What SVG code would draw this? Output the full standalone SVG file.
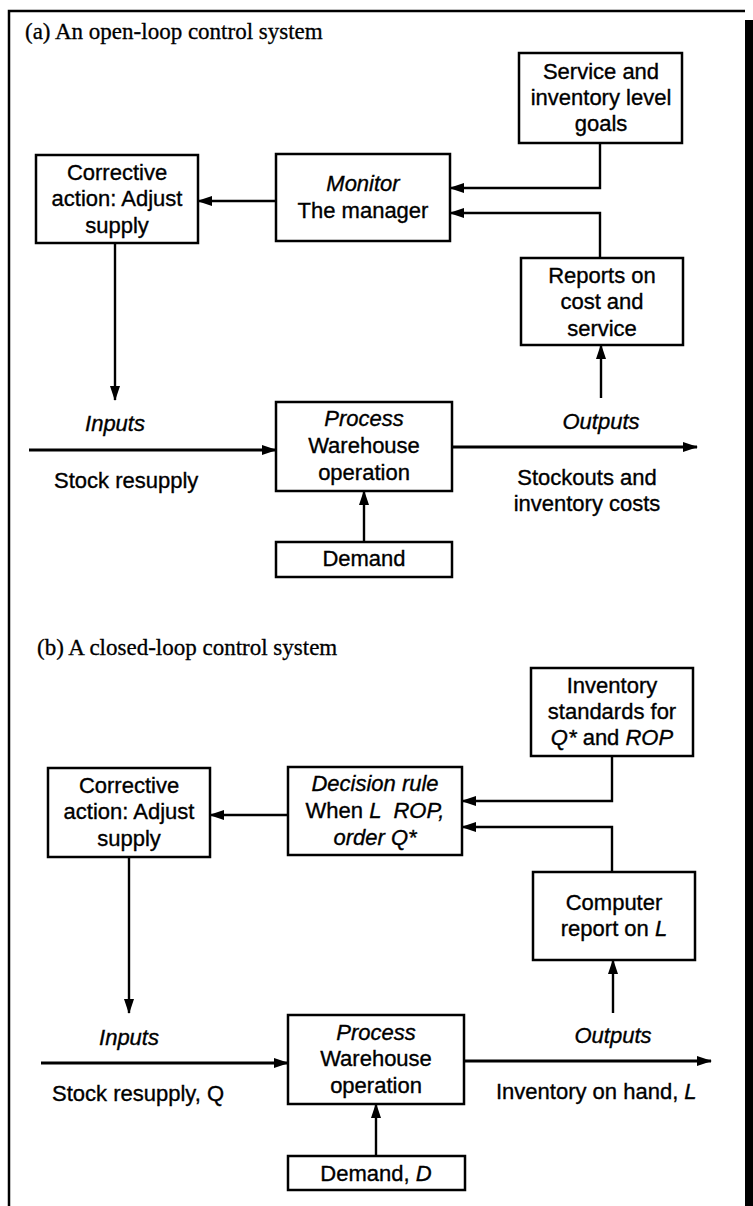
<svg xmlns="http://www.w3.org/2000/svg" width="753" height="1206" viewBox="0 0 753 1206">
<defs>
<marker id="ah" markerUnits="userSpaceOnUse" markerWidth="15" markerHeight="11" refX="14" refY="5.5" orient="auto">
<path d="M0,0.5 L15,5.5 L0,10.5 Z" fill="#000"/>
</marker>
</defs>
<style>
.box{fill:#fff;stroke:#000;stroke-width:2.5}
.c{fill:none;stroke:#000;stroke-width:2.4}
.m{fill:none;stroke:#000;stroke-width:3.2}
.t{font-family:"Liberation Sans",Arial,sans-serif;font-size:22px;fill:#000;stroke:#000;stroke-width:0.35}
.mid{text-anchor:middle}
.i{font-style:italic}
.title{font-family:"Liberation Serif","Times New Roman",serif;font-size:23px;fill:#000;stroke:#000;stroke-width:0.3}
</style>
<rect width="753" height="1206" fill="#fff"/>
<g id="frame">
<path d="M9,1206 L9,11 L745,11" fill="none" stroke="#000" stroke-width="2.5"/>
<rect x="745" y="20" width="8" height="1186" fill="#000"/>
</g>
<text class="title" x="25" y="39">(a) An open-loop control system</text>
<text class="title" x="37" y="655">(b) A closed-loop control system</text>

<g id="connectors">
<!-- part a -->
<path class="c" d="M276,201 L198,201" marker-end="url(#ah)"/>
<path class="c" d="M600,143 L600,188 L450,188" marker-end="url(#ah)"/>
<path class="c" d="M600,258 L600,213 L450,213" marker-end="url(#ah)"/>
<path class="c" d="M115,243 L115,400" marker-end="url(#ah)"/>
<path class="c" d="M601,398 L601,345" marker-end="url(#ah)"/>
<path class="m" d="M29,450 L276,450" marker-end="url(#ah)"/>
<path class="m" d="M452,447 L697,447" marker-end="url(#ah)"/>
<path class="c" d="M364,542 L364,491" marker-end="url(#ah)"/>
<!-- part b -->
<path class="c" d="M288,815 L210,815" marker-end="url(#ah)"/>
<path class="c" d="M612,756 L612,801 L462,801" marker-end="url(#ah)"/>
<path class="c" d="M612,872 L612,827 L462,827" marker-end="url(#ah)"/>
<path class="c" d="M129,857 L129,1013" marker-end="url(#ah)"/>
<path class="c" d="M613,1013 L613,960" marker-end="url(#ah)"/>
<path class="m" d="M41,1063 L288,1063" marker-end="url(#ah)"/>
<path class="m" d="M464,1061 L711,1061" marker-end="url(#ah)"/>
<path class="c" d="M376,1156 L376,1104" marker-end="url(#ah)"/>
</g>

<g id="a-goals">
<rect class="box" x="519" y="53" width="163" height="90"/>
<text class="t mid" x="601" y="79">Service and</text>
<text class="t mid" x="601" y="105">inventory level</text>
<text class="t mid" x="601" y="131">goals</text>
</g>
<g id="a-monitor">
<rect class="box" x="276" y="154" width="174" height="87"/>
<text class="t mid i" x="363" y="191">Monitor</text>
<text class="t mid" x="363" y="218">The manager</text>
</g>
<g id="a-corrective">
<rect class="box" x="36" y="155" width="162" height="88"/>
<text class="t mid" x="117" y="180">Corrective</text>
<text class="t mid" x="117" y="206">action: Adjust</text>
<text class="t mid" x="117" y="233">supply</text>
</g>
<g id="a-reports">
<rect class="box" x="521" y="258" width="162" height="87"/>
<text class="t mid" x="602" y="283">Reports on</text>
<text class="t mid" x="602" y="309">cost and</text>
<text class="t mid" x="602" y="336">service</text>
</g>
<g id="a-process">
<rect class="box" x="276" y="402" width="176" height="89"/>
<text class="t mid i" x="364" y="426">Process</text>
<text class="t mid" x="364" y="453">Warehouse</text>
<text class="t mid" x="364" y="480">operation</text>
</g>
<g id="a-demand">
<rect class="box" x="276" y="542" width="176" height="35"/>
<text class="t mid" x="364" y="566">Demand</text>
</g>
<g id="a-labels">
<text class="t mid i" x="115" y="431">Inputs</text>
<text class="t mid i" x="601" y="429">Outputs</text>
<text class="t" x="54" y="488">Stock resupply</text>
<text class="t mid" x="587" y="485">Stockouts and</text>
<text class="t mid" x="587" y="511">inventory costs</text>
</g>

<g id="b-standards">
<rect class="box" x="531" y="668" width="162" height="88"/>
<text class="t mid" x="612" y="693">Inventory</text>
<text class="t mid" x="612" y="719">standards for</text>
<text class="t mid" x="612" y="745"><tspan class="i">Q*</tspan> and <tspan class="i">ROP</tspan></text>
</g>
<g id="b-decision">
<rect class="box" x="288" y="767" width="174" height="88"/>
<text class="t mid i" x="375" y="791">Decision rule</text>
<text class="t mid" x="375" y="818">When <tspan class="i">L</tspan><tspan class="i" dx="12">ROP,</tspan></text>
<text class="t mid i" x="375" y="845">order Q*</text>
</g>
<g id="b-corrective">
<rect class="box" x="48" y="768" width="162" height="89"/>
<text class="t mid" x="129" y="793">Corrective</text>
<text class="t mid" x="129" y="819">action: Adjust</text>
<text class="t mid" x="129" y="846">supply</text>
</g>
<g id="b-computer">
<rect class="box" x="533" y="872" width="162" height="88"/>
<text class="t mid" x="614" y="910">Computer</text>
<text class="t mid" x="614" y="936">report on <tspan class="i">L</tspan></text>
</g>
<g id="b-process">
<rect class="box" x="288" y="1015" width="176" height="89"/>
<text class="t mid i" x="376" y="1040">Process</text>
<text class="t mid" x="376" y="1066">Warehouse</text>
<text class="t mid" x="376" y="1093">operation</text>
</g>
<g id="b-demand">
<rect class="box" x="288" y="1156" width="177" height="34"/>
<text class="t mid" x="376" y="1181">Demand, <tspan class="i">D</tspan></text>
</g>
<g id="b-labels">
<text class="t mid i" x="129" y="1045">Inputs</text>
<text class="t mid i" x="613" y="1043">Outputs</text>
<text class="t" x="52" y="1101">Stock resupply, Q</text>
<text class="t" x="496" y="1099">Inventory on hand, <tspan class="i">L</tspan></text>
</g>
</svg>
